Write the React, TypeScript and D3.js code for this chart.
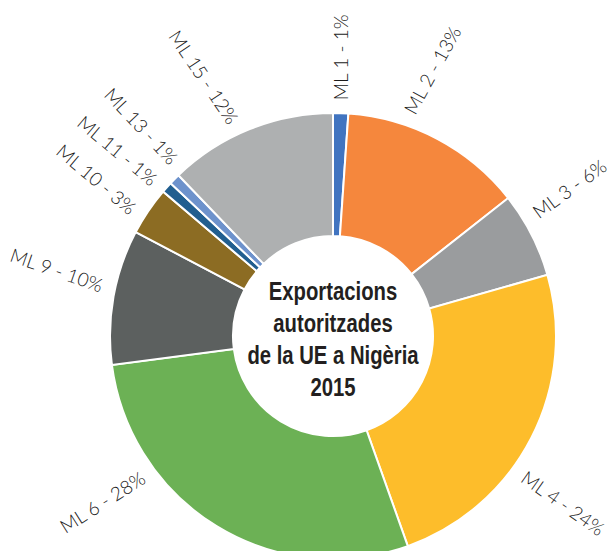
import React from "react";
import * as d3 from "d3";

// ---- data ----
const categories = ["ML 1", "ML 2", "ML 3", "ML 4", "ML 6", "ML 9", "ML 10", "ML 11", "ML 13", "ML 15"];
const shares = [1.1, 13.3, 6.2, 24.0, 28.4, 9.8, 3.5, 0.8, 0.8, 12.2];
const labelPercents = [1, 13, 6, 24, 28, 10, 3, 1, 1, 12];
const colors = ["#4174c0", "#f5873d", "#9a9c9e", "#fdbd2b", "#6cb155", "#5c605f", "#8c6c23", "#215e8f", "#6d92cc", "#aeb0b1"];
const titleLines = ["Exportacions", "autoritzades", "de la UE a Nigèria", "2015"];

// label layout nudges (degrees) relative to slice mid-angle
const labelPosNudge = [0, -9, -4, 9, 22, 2, -2, -1, 3, -3];
const labelTiltNudge = [-2, 1, -9, 8, 26, 9, 6, -2, 2, -12];

const W = 607;
const H = 551;
const cx = 333;
const cy = 336;
const outerR = 223;
const innerR = 100;
const labelR = 236;

export default function App() {
  const pie = d3.pie<number>().sort(null).value((d) => d);
  const arcs = pie(shares);
  const arcGen = d3.arc<d3.PieArcDatum<number>>().innerRadius(innerR).outerRadius(outerR);
  const toRad = Math.PI / 180;

  return (
    <div style={{ position: "fixed", left: 0, top: 0 }}>
      <svg width={W} height={H} style={{ display: "block", background: "#fff" }}>
        <g transform={`translate(${cx},${cy})`}>
          {arcs.map((a, i) => (
            <path key={i} d={arcGen(a) || ""} fill={colors[i]} stroke="#fff" strokeWidth={2} />
          ))}
          {arcs.map((a, i) => {
            const mid = (a.startAngle + a.endAngle) / 2;
            const pos = mid + labelPosNudge[i] * toRad;
            const tilt = mid / toRad + labelTiltNudge[i];
            const x = labelR * Math.sin(pos);
            const y = -labelR * Math.cos(pos);
            const right = tilt < 180;
            const rot = right ? tilt - 90 : tilt - 270;
            return (
              <text
                key={i}
                transform={`translate(${x},${y}) rotate(${rot})`}
                textAnchor={right ? "start" : "end"}
                dy="0.35em"
                fontFamily="Lato, 'Open Sans', sans-serif"
                fontWeight={300}
                fontSize={19}
                fill="#1a1a1a"
              >
                {`${categories[i]} - ${labelPercents[i]}%`}
              </text>
            );
          })}
          <g transform="scale(0.78,1)">
            {titleLines.map((t, i) => (
              <text
                key={t}
                x={0}
                y={300 - cy + i * 32}
                textAnchor="middle"
                fontFamily="'Liberation Sans', Arial, sans-serif"
                fontWeight={700}
                fontSize={26}
                fill="#231f20"
              >
                {t}
              </text>
            ))}
          </g>
        </g>
      </svg>
    </div>
  );
}
